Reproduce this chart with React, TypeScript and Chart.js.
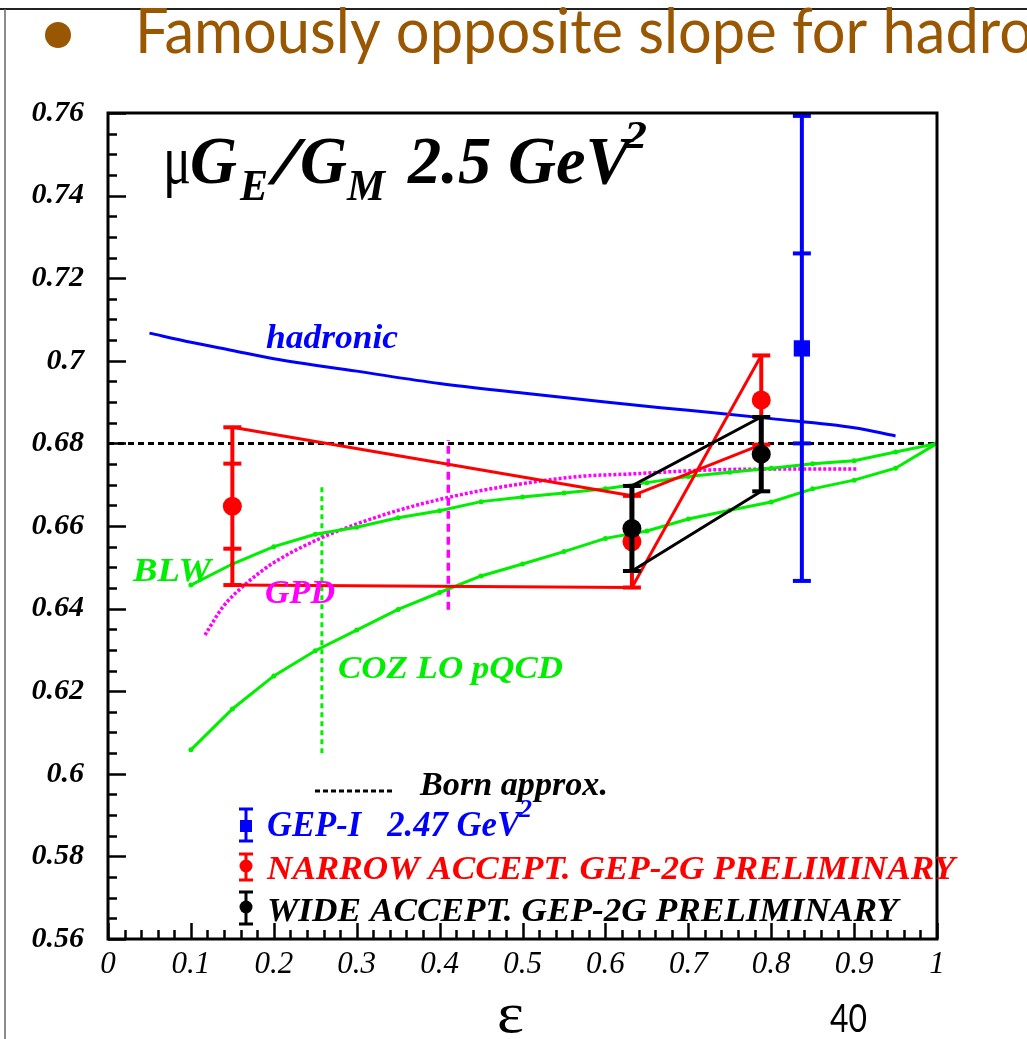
import React, { useEffect, useRef } from "react";
import { Chart, registerables } from "chart.js";

Chart.register(...registerables);

// ---------- data ----------
const X_TICKS = [0, 0.1, 0.2, 0.3, 0.4, 0.5, 0.6, 0.7, 0.8, 0.9, 1];
const X_TICK_LABELS = ["0", "0.1", "0.2", "0.3", "0.4", "0.5", "0.6", "0.7", "0.8", "0.9", "1"];
const Y_TICKS = [0.56, 0.58, 0.6, 0.62, 0.64, 0.66, 0.68, 0.7, 0.72, 0.74, 0.76];
const Y_TICK_LABELS = ["0.56", "0.58", "0.6", "0.62", "0.64", "0.66", "0.68", "0.7", "0.72", "0.74", "0.76"];

const BORN_EPS = [0, 1];
const BORN_VAL = [0.68, 0.68];

const HADRONIC_EPS = [0.05, 0.1, 0.15, 0.2, 0.3, 0.4, 0.5, 0.6, 0.7, 0.8, 0.9, 0.95];
const HADRONIC_VAL = [0.7067, 0.7045, 0.7025, 0.7005, 0.6975, 0.6945, 0.6922, 0.690, 0.688, 0.686, 0.6838, 0.6818];

const BLW_EPS = [0.1, 0.15, 0.2, 0.25, 0.3, 0.35, 0.4, 0.45, 0.5, 0.55, 0.6, 0.65, 0.7, 0.75, 0.8, 0.85, 0.9, 0.95, 1.0];
const BLW_VAL = [0.6457, 0.6508, 0.655, 0.658, 0.6597, 0.662, 0.6637, 0.6659, 0.667, 0.668, 0.669, 0.6705, 0.672, 0.673, 0.674, 0.6751, 0.6758, 0.6779, 0.68];

const COZ_EPS = [0.1, 0.15, 0.2, 0.25, 0.3, 0.35, 0.4, 0.45, 0.5, 0.55, 0.6, 0.65, 0.7, 0.75, 0.8, 0.85, 0.9, 0.95, 1.0];
const COZ_VAL = [0.6058, 0.6157, 0.6237, 0.6298, 0.6348, 0.6398, 0.6439, 0.6479, 0.6508, 0.6538, 0.657, 0.6588, 0.6617, 0.6638, 0.6658, 0.669, 0.6711, 0.674, 0.68];

const GPD_EPS = [0.117, 0.139, 0.167, 0.199, 0.256, 0.296, 0.352, 0.41, 0.473, 0.569, 0.63, 0.73, 0.84, 0.905];
const GPD_VAL = [0.6336, 0.6405, 0.6461, 0.651, 0.657, 0.6602, 0.6639, 0.6669, 0.6694, 0.672, 0.6726, 0.6736, 0.6738, 0.6738];

const COZ_MARK_EPS = [0.258, 0.258];
const COZ_MARK_VAL = [0.605, 0.670];
const GPD_MARK_EPS = [0.4105, 0.4105];
const GPD_MARK_VAL = [0.6397, 0.6808];

const NARROW_EPS = [0.15, 0.632, 0.788];
const NARROW_VAL = [0.6648, 0.6562, 0.6905];
const NARROW_TOTAL = [0.0191, 0.0111, 0.0108];
const NARROW_STAT = [0.0103, null, null];

const WIDE_EPS = [0.632, 0.788];
const WIDE_VAL = [0.6594, 0.6774];
const WIDE_TOTAL = [0.0103, 0.009];

const GEP1_EPS = [0.837];
const GEP1_VAL = [0.703];
const GEP1_TOTAL = [0.0563];
const GEP1_STAT = [0.023];

// ---------- colours ----------
const RED = "#ff0000";
const BLUE = "#0000ff";
const GREEN = "#00ee00";
const MAGENTA = "#ff00ff";
const BLACK = "#000000";
const BROWN = "#985700";

const pts = (xs: number[], ys: number[]) => xs.map((x, i) => ({ x, y: ys[i] }));

function lineSet(data: any[], color: string, width: number, extra: any = {}) {
  return {
    data,
    showLine: true,
    borderColor: color,
    backgroundColor: color,
    borderWidth: width,
    pointRadius: 0,
    ...extra,
  };
}

function errorBarSets(eps: number[], val: number[], total: number[], stat: (number | null)[] | null, color: string, width: number) {
  const out: any[] = [];
  eps.forEach((x, i) => {
    out.push({
      data: [{ x, y: val[i] - total[i] }, { x, y: val[i] + total[i] }],
      showLine: true,
      borderColor: color,
      borderWidth: width,
      pointStyle: "line",
      pointRadius: 9,
      pointBorderWidth: 4,
      pointBorderColor: color,
      pointBackgroundColor: color,
    });
    const s = stat ? stat[i] : null;
    if (s != null) {
      out.push({
        data: [{ x, y: val[i] - s }, { x, y: val[i] + s }],
        showLine: false,
        pointStyle: "line",
        pointRadius: 9,
        pointBorderWidth: 4,
        pointBorderColor: color,
        pointBackgroundColor: color,
      });
    }
  });
  return out;
}

function fitText(ctx: CanvasRenderingContext2D, text: string, x: number, y: number, font: string, width: number, color: string) {
  ctx.save();
  ctx.font = font;
  ctx.fillStyle = color;
  ctx.textAlign = "left";
  ctx.textBaseline = "alphabetic";
  const w = ctx.measureText(text).width;
  ctx.translate(x, y);
  ctx.scale(width / w, 1);
  ctx.fillText(text, 0, 0);
  ctx.restore();
}

const SERIF = '"Liberation Serif", "Times New Roman", serif';
const BI = (s: number) => `italic bold ${s}px ${SERIF}`;

const decorPlugin = {
  id: "decor",
  beforeDraw(chart: any) {
    const ctx = chart.ctx;
    ctx.save();
    ctx.fillStyle = "#ffffff";
    ctx.fillRect(0, 0, chart.width, chart.height);
    ctx.restore();
  },
  afterDatasetsDraw(chart: any) {
    const ctx: CanvasRenderingContext2D = chart.ctx;
    const { left, right, top, bottom } = chart.chartArea;
    const xs = chart.scales.x;
    const ys = chart.scales.y;
    ctx.save();
    ctx.strokeStyle = BLACK;
    ctx.lineWidth = 2.5;
    ctx.beginPath();
    for (let i = 0; i <= 50; i++) {
      const px = Math.round(xs.getPixelForValue(i * 0.02)) + 0.5;
      const len = i % 5 === 0 ? 16 : 9;
      ctx.moveTo(px, bottom);
      ctx.lineTo(px, bottom - len);
    }
    for (let i = 0; i <= 40; i++) {
      const py = Math.round(ys.getPixelForValue(0.56 + i * 0.005)) + 0.5;
      const len = i % 4 === 0 ? 18 : 9;
      ctx.moveTo(left, py);
      ctx.lineTo(left + len, py);
    }
    ctx.stroke();
    ctx.lineWidth = 3;
    ctx.strokeRect(left, top, right - left, bottom - top);
    ctx.restore();
  },
  afterDraw(chart: any) {
    const ctx: CanvasRenderingContext2D = chart.ctx;
    ctx.save();
    // slide frame
    ctx.strokeStyle = "#222";
    ctx.lineWidth = 2;
    ctx.beginPath();
    ctx.moveTo(0, 9);
    ctx.lineTo(1027, 9);
    ctx.stroke();
    ctx.strokeStyle = "#666";
    ctx.lineWidth = 1.5;
    ctx.beginPath();
    ctx.moveTo(5, 9);
    ctx.lineTo(5, 1039);
    ctx.stroke();

    // header
    ctx.fillStyle = BROWN;
    ctx.beginPath();
    ctx.arc(58, 35, 13, 0, Math.PI * 2);
    ctx.fill();
    ctx.font = `62px Lato, "Open Sans", sans-serif`;
    const pre = ctx.measureText("Famously opposite slope for hadro").width;
    const sx = 898 / pre;
    ctx.save();
    ctx.translate(135, 53);
    ctx.scale(sx, 1);
    ctx.fillText("Famously opposite slope for hadronic", 0, 0);
    ctx.restore();

    // plot title
    fitText(ctx, "\u03bc", 163, 183, `70px ${SERIF}`, 28, BLACK);
    fitText(ctx, "G", 190, 183, BI(68), 47, BLACK);
    fitText(ctx, "E", 240, 200, BI(45), 28, BLACK);
    fitText(ctx, "/", 273, 183, BI(68), 26, BLACK);
    fitText(ctx, "G", 300, 183, BI(68), 47, BLACK);
    fitText(ctx, "M", 347, 200, BI(45), 38, BLACK);
    fitText(ctx, "2.5 GeV", 408, 183, BI(68), 222, BLACK);
    fitText(ctx, "2", 624, 148, BI(41), 23, BLACK);

    // curve labels
    fitText(ctx, "hadronic", 266, 348, BI(34), 132, BLUE);
    fitText(ctx, "BLW", 133, 581, BI(33), 78, GREEN);
    fitText(ctx, "GPD", 265, 603, BI(33), 70, MAGENTA);
    fitText(ctx, "COZ LO pQCD", 338, 678, BI(32), 225, GREEN);

    // legend
    ctx.strokeStyle = BLACK;
    ctx.lineWidth = 3;
    ctx.setLineDash([5, 3]);
    ctx.beginPath();
    ctx.moveTo(315, 791);
    ctx.lineTo(394, 791);
    ctx.stroke();
    ctx.setLineDash([]);
    fitText(ctx, "Born approx.", 420, 795, BI(33), 188, BLACK);

    const glyph = (x: number, y0: number, y1: number, ym: number, color: string, square: boolean) => {
      ctx.strokeStyle = color;
      ctx.fillStyle = color;
      ctx.lineWidth = 3;
      ctx.beginPath();
      ctx.moveTo(x, y0);
      ctx.lineTo(x, y1);
      ctx.moveTo(x - 7, y0);
      ctx.lineTo(x + 7, y0);
      ctx.moveTo(x - 7, y1);
      ctx.lineTo(x + 7, y1);
      ctx.stroke();
      if (square) {
        ctx.fillRect(x - 6, ym - 6, 12, 12);
      } else {
        ctx.beginPath();
        ctx.arc(x, ym, 6.5, 0, Math.PI * 2);
        ctx.fill();
      }
    };
    glyph(246, 809, 841, 826, BLUE, true);
    glyph(246, 854, 880, 866, RED, false);
    glyph(246, 892, 924, 907, BLACK, false);

    fitText(ctx, "GEP-I   2.47 GeV", 267, 836, BI(35), 253, BLUE);
    fitText(ctx, "2", 519, 817, BI(26), 13, BLUE);
    fitText(ctx, "NARROW ACCEPT. GEP-2G PRELIMINARY", 267, 879, BI(34), 688, RED);
    fitText(ctx, "WIDE ACCEPT. GEP-2G PRELIMINARY", 267, 921, BI(34), 631, BLACK);

    // axis title and page number
    fitText(ctx, "\u03b5", 497, 1032, `58px ${SERIF}`, 27, BLACK);
    fitText(ctx, "40", 830, 1032, `38px Lato, "Open Sans", sans-serif`, 37, BLACK);
    ctx.restore();
  },
};

export default function App() {
  const ref = useRef<HTMLCanvasElement | null>(null);

  useEffect(() => {
    if (!ref.current) return;

    const bottomFirst: any[] = [];
    bottomFirst.push(lineSet(pts(BORN_EPS, BORN_VAL), BLACK, 3, { borderDash: [6, 4] }));
    bottomFirst.push(lineSet(pts(COZ_MARK_EPS, COZ_MARK_VAL), GREEN, 3, { borderDash: [5, 4] }));
    bottomFirst.push(lineSet(pts(GPD_MARK_EPS, GPD_MARK_VAL), MAGENTA, 3.5, { borderDash: [8, 5] }));
    bottomFirst.push(lineSet(pts(GPD_EPS, GPD_VAL), MAGENTA, 3.5, { borderDash: [3, 2], cubicInterpolationMode: "monotone" }));
    bottomFirst.push(lineSet(pts(COZ_EPS, COZ_VAL), GREEN, 3, { pointRadius: 2.5, pointBorderWidth: 0, pointBackgroundColor: GREEN }));
    bottomFirst.push(lineSet(pts(BLW_EPS, BLW_VAL), GREEN, 3, { pointRadius: 2.5, pointBorderWidth: 0, pointBackgroundColor: GREEN }));
    bottomFirst.push(lineSet(pts(HADRONIC_EPS, HADRONIC_VAL), BLUE, 3, { cubicInterpolationMode: "monotone" }));

    // red systematic envelope
    const nTop = NARROW_VAL.map((v, i) => v + NARROW_TOTAL[i]);
    const nBot = NARROW_VAL.map((v, i) => v - NARROW_TOTAL[i]);
    bottomFirst.push(lineSet([{ x: NARROW_EPS[0], y: nTop[0] }, { x: NARROW_EPS[1], y: nTop[1] }], RED, 3));
    bottomFirst.push(lineSet([{ x: NARROW_EPS[0], y: nBot[0] }, { x: NARROW_EPS[1], y: nBot[1] }], RED, 3));
    bottomFirst.push(lineSet([{ x: NARROW_EPS[1], y: nBot[1] }, { x: NARROW_EPS[2], y: nTop[2] }], RED, 3));
    bottomFirst.push(lineSet([{ x: NARROW_EPS[1], y: nTop[1] }, { x: NARROW_EPS[2], y: nBot[2] }], RED, 3));
    bottomFirst.push(...errorBarSets(NARROW_EPS, NARROW_VAL, NARROW_TOTAL, NARROW_STAT, RED, 4));
    bottomFirst.push({
      data: pts(NARROW_EPS, NARROW_VAL),
      showLine: false,
      pointStyle: "circle",
      pointRadius: 9.5,
      pointBorderWidth: 0,
      pointBackgroundColor: RED,
    });

    // black envelope
    const wTop = WIDE_VAL.map((v, i) => v + WIDE_TOTAL[i]);
    const wBot = WIDE_VAL.map((v, i) => v - WIDE_TOTAL[i]);
    bottomFirst.push(lineSet([{ x: WIDE_EPS[0], y: wTop[0] }, { x: WIDE_EPS[1], y: wTop[1] }], BLACK, 3));
    bottomFirst.push(lineSet([{ x: WIDE_EPS[0], y: wBot[0] }, { x: WIDE_EPS[1], y: wBot[1] }], BLACK, 3));
    bottomFirst.push(...errorBarSets(WIDE_EPS, WIDE_VAL, WIDE_TOTAL, null, BLACK, 5));
    bottomFirst.push({
      data: pts(WIDE_EPS, WIDE_VAL),
      showLine: false,
      pointStyle: "circle",
      pointRadius: 9.5,
      pointBorderWidth: 0,
      pointBackgroundColor: BLACK,
    });

    // GEP-I
    bottomFirst.push(...errorBarSets(GEP1_EPS, GEP1_VAL, GEP1_TOTAL, GEP1_STAT, BLUE, 4));
    bottomFirst.push({
      data: pts(GEP1_EPS, GEP1_VAL),
      showLine: false,
      pointStyle: "rect",
      pointRadius: 11.5,
      pointBorderWidth: 0,
      pointBackgroundColor: BLUE,
    });

    const datasets = bottomFirst.slice().reverse();

    const xFont = { family: SERIF, style: "italic" as const, weight: "normal" as const, size: 31 };
    const yFont = { family: SERIF, style: "italic" as const, weight: "bold" as const, size: 30 };

    const chart = new Chart(ref.current, {
      type: "scatter",
      data: { datasets },
      options: {
        responsive: false,
        maintainAspectRatio: false,
        animation: false,
        devicePixelRatio: 1,
        events: [],
        layout: { padding: { top: 113, right: 90, left: 0, bottom: 0 } },
        plugins: {
          legend: { display: false },
          tooltip: { enabled: false },
          title: { display: false },
        },
        scales: {
          x: {
            type: "linear",
            min: 0,
            max: 1,
            afterFit: (s: any) => {
              s.height = 100;
            },
            afterBuildTicks: (s: any) => {
              s.ticks = X_TICKS.map((v) => ({ value: v }));
            },
            grid: { display: false, drawTicks: false },
            border: { display: false },
            ticks: {
              autoSkip: false,
              maxRotation: 0,
              padding: 7,
              color: BLACK,
              font: xFont,
              callback: (_v: any, i: number) => X_TICK_LABELS[i],
            },
          },
          y: {
            type: "linear",
            min: 0.56,
            max: 0.76,
            afterFit: (s: any) => {
              s.width = 108;
            },
            afterBuildTicks: (s: any) => {
              s.ticks = Y_TICKS.map((v) => ({ value: v }));
            },
            grid: { display: false, drawTicks: false },
            border: { display: false },
            ticks: {
              autoSkip: false,
              padding: 24,
              color: BLACK,
              font: yFont,
              callback: (_v: any, i: number) => Y_TICK_LABELS[i],
            },
          },
        },
      },
      plugins: [decorPlugin],
    } as any);

    return () => chart.destroy();
  }, []);

  return (
    <div style={{ position: "fixed", left: 0, top: 0, width: 1027, height: 1039, background: "#fff" }}>
      <canvas ref={ref} width={1027} height={1039} style={{ display: "block", width: 1027, height: 1039 }} />
    </div>
  );
}
